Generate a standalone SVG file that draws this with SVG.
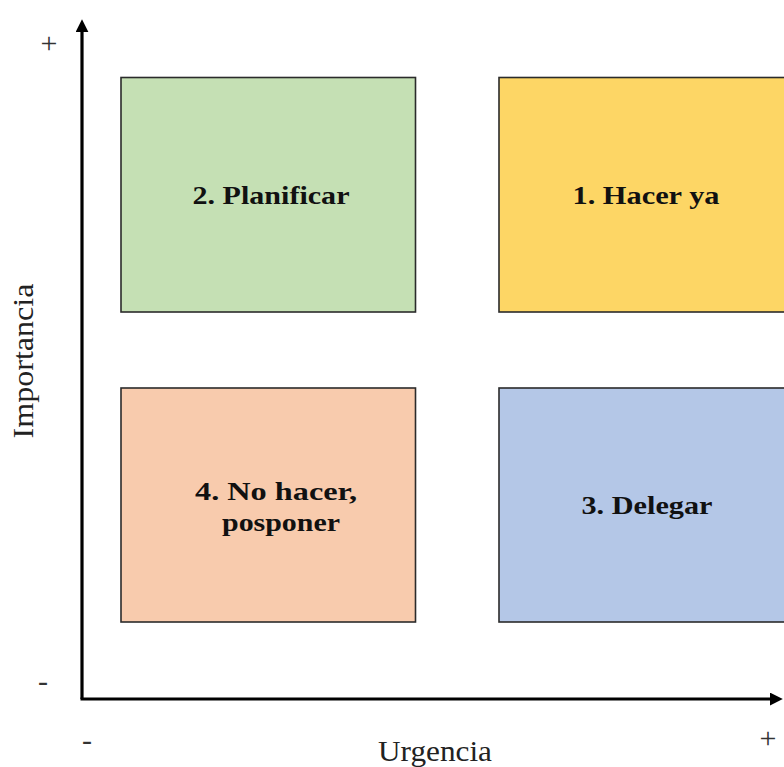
<svg xmlns="http://www.w3.org/2000/svg" width="784" height="767" viewBox="0 0 784 767">
<style>
.box{stroke:#2b2b2b;stroke-width:1.6}
.lbl{font-family:'Liberation Serif','Times New Roman',Times,serif;font-weight:bold;font-size:26px;fill:#111}
.ax{font-family:'Liberation Serif','Times New Roman',Times,serif;font-size:30px;fill:#222}
.sign{font-family:'Liberation Serif','Times New Roman',Times,serif;font-size:30px;fill:#333}
.axis{stroke:#000;stroke-width:3.2;fill:none}
</style>
<defs>
<marker id="arr" markerWidth="5" markerHeight="5" refX="2.5" refY="2" orient="auto" markerUnits="strokeWidth">
<path d="M0,0 L4,2 L0,4 Z" fill="#000"/>
</marker>
</defs>
<rect width="784" height="767" fill="#fff"/>
<g id="connectors">
<path class="axis" d="M82,699 L82,24" marker-end="url(#arr)"/>
<path class="axis" d="M80.5,699 L778,699" marker-end="url(#arr)"/>
</g>
<g id="q2">
<rect class="box" x="121" y="77.5" width="294.5" height="234.5" fill="#C5E0B4"/>
<text class="lbl" x="271" y="204" text-anchor="middle" textLength="157" lengthAdjust="spacingAndGlyphs">2. Planificar</text>
</g>
<g id="q1">
<rect class="box" x="499" y="77.5" width="290" height="234.5" fill="#FDD665"/>
<text class="lbl" x="646" y="204" text-anchor="middle" textLength="147" lengthAdjust="spacingAndGlyphs">1. Hacer ya</text>
</g>
<g id="q4">
<rect class="box" x="121" y="388" width="294.5" height="234" fill="#F8CBAD"/>
<text class="lbl" x="276" y="500" text-anchor="middle" textLength="162" lengthAdjust="spacingAndGlyphs">4. No hacer,</text>
<text class="lbl" x="281" y="531" text-anchor="middle" textLength="118" lengthAdjust="spacingAndGlyphs">posponer</text>
</g>
<g id="q3">
<rect class="box" x="499" y="388" width="290" height="234" fill="#B4C7E7"/>
<text class="lbl" x="647" y="514" text-anchor="middle" textLength="131" lengthAdjust="spacingAndGlyphs">3. Delegar</text>
</g>
<g id="axis-labels">
<text class="ax" transform="translate(33,361) rotate(-90)" text-anchor="middle" textLength="155" lengthAdjust="spacingAndGlyphs">Importancia</text>
<text class="ax" x="435" y="761" text-anchor="middle" textLength="114" lengthAdjust="spacingAndGlyphs">Urgencia</text>
<text class="sign" x="49" y="53" text-anchor="middle">+</text>
<text class="sign" x="43" y="691" text-anchor="middle">-</text>
<text class="sign" x="87" y="750" text-anchor="middle">-</text>
<text class="sign" x="768" y="748" text-anchor="middle">+</text>
</g>
</svg>
